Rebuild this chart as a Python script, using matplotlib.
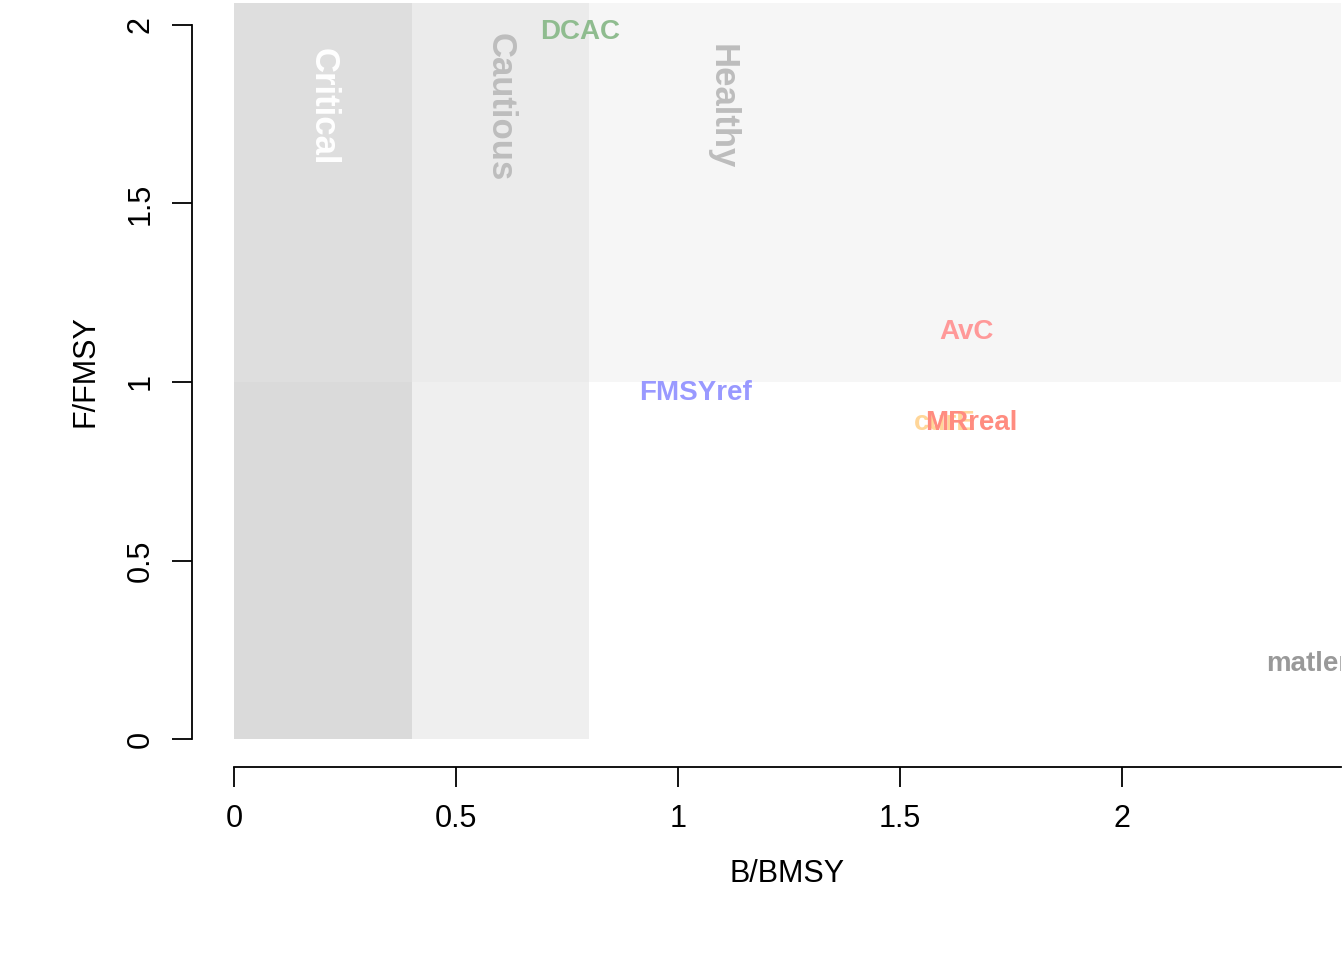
import matplotlib.pyplot as plt
from matplotlib.patches import Rectangle

plt.rcParams['font.family'] = ['Liberation Sans', 'DejaVu Sans']

# zone limits (B/BMSY)
zone_names = ["Critical", "Cautious", "Healthy"]
zone_x = [0.2, 0.6, 1.1]
zone_y = [1.77, 1.77, 1.77]
zone_colors = ["white", "#bdbdbd", "#bdbdbd"]

# method labels
methods = ["DCAC", "FMSYref", "AvC", "curE", "MRreal", "matlenlim"]
b_bmsy = [0.78, 1.04, 1.65, 1.6, 1.66, 2.47]
f_fmsy = [1.98, 0.97, 1.14, 0.885, 0.885, 0.21]
method_colors = ["#8fbc8f", "#9999ff", "#ff9999", "#ffd699", "#ff8c80", "#999999"]

PT = 72 / 100  # points per pixel

fig = plt.figure(figsize=(13.44, 9.6), dpi=100)
ax = fig.add_axes([234 / 1344, 1 - 739 / 960, 1107 / 1344, 736 / 960])
xmax, ymax = 1107 / 444, 736 / 357
ax.set_xlim(0, xmax)
ax.set_ylim(0, ymax)

ax.add_patch(Rectangle((0, 0), 0.4, ymax, color="#dadada", lw=0, zorder=0))
ax.add_patch(Rectangle((0.4, 0), 0.4, ymax, color="#efefef", lw=0, zorder=0))
ax.add_patch(Rectangle((0, 1), xmax, ymax - 1, color="#e6e6e6", alpha=0.35, lw=0, zorder=1))

for name, x, y, c in zip(zone_names, zone_x, zone_y, zone_colors):
    ax.text(x, y, name, rotation=270, ha="center", va="center", color=c,
            fontsize=25, fontweight="bold", zorder=2)

for m, x, y, c in zip(methods, b_bmsy, f_fmsy, method_colors):
    ax.text(x, y, m, ha="center", va="center", color=c, fontsize=20,
            fontweight="bold", zorder=3, clip_on=True)

for s in ["top", "right"]:
    ax.spines[s].set_visible(False)
ax.spines["left"].set_position(("outward", 42 * PT))
ax.spines["bottom"].set_position(("outward", 28 * PT))
ax.spines["left"].set_bounds(0, 2)
ax.spines["bottom"].set_bounds(0, xmax)
ax.set_xticks([0, 0.5, 1, 1.5, 2])
ax.set_xticklabels(["0", "0.5", "1", "1.5", "2"])
ax.set_yticks([0, 0.5, 1, 1.5, 2])
ax.set_yticklabels(["0", "0.5", "1", "1.5", "2"], rotation=90, va="center")
ax.tick_params(labelsize=22, length=20 * PT, width=1.3, pad=12)
for s in ["left", "bottom"]:
    ax.spines[s].set_linewidth(1.3)
ax.set_xlabel("B/BMSY", fontsize=22, labelpad=18)
ax.set_ylabel("F/FMSY", fontsize=22, labelpad=18)

fig.savefig("out.png", dpi=100)
